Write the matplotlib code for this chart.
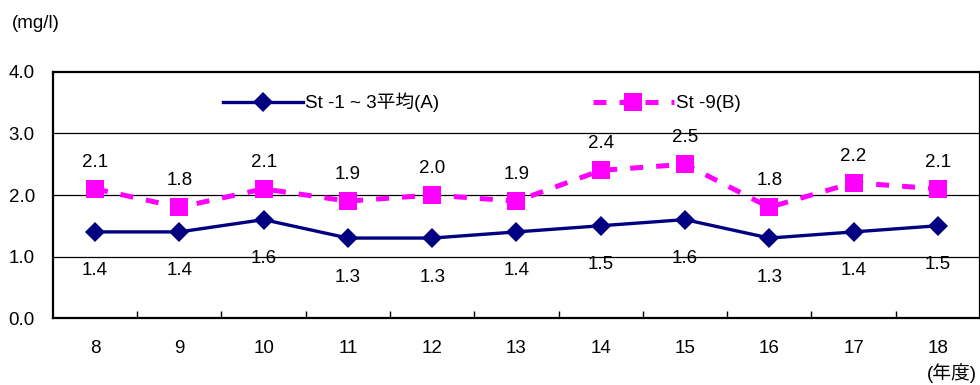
#!/usr/bin/env python3

import matplotlib.pyplot as plt
import numpy as np

plt.rcParams["font.family"] = ["Liberation Sans", "Noto Sans CJK JP"]

years = ["8", "9", "10", "11", "12", "13", "14", "15", "16", "17", "18"]
st_avg = [1.4, 1.4, 1.6, 1.3, 1.3, 1.4, 1.5, 1.6, 1.3, 1.4, 1.5]
st_9 = [2.1, 1.8, 2.1, 1.9, 2.0, 1.9, 2.4, 2.5, 1.8, 2.2, 2.1]
yticks = [0.0, 1.0, 2.0, 3.0, 4.0]

NAVY = "#000080"
PINK = "#FF00FF"
FS = 13.5

fig = plt.figure(figsize=(9.8, 3.85), dpi=100)
ax = fig.add_axes([0.054, 0.174, 0.946, 0.639])

x = np.arange(len(years))

ax.plot(x, st_9, color=PINK, lw=3.6, ls=(0, (2.6, 2.6)), marker="s",
        markersize=13.5, markeredgewidth=0, label="St -9(B)", zorder=3)
ax.plot(x, st_avg, color=NAVY, lw=2.4, marker="D", markersize=10,
        markeredgewidth=0, label="St -1 ~ 3平均(A)", zorder=4)

# value labels: series B above its points, series A below
for xi, v in zip(x, st_9):
    ax.annotate(f"{v:.1f}", (xi, v), xytext=(0, 13), textcoords="offset points",
                ha="center", va="bottom", fontsize=FS)
for xi, v in zip(x, st_avg):
    ax.annotate(f"{v:.1f}", (xi, v), xytext=(0, -22), textcoords="offset points",
                ha="center", va="top", fontsize=FS)

ax.set_xlim(-0.5, len(years) - 0.5)
ax.set_ylim(0, 4)
ax.set_yticks(yticks)
ax.set_yticklabels([f"{t:.1f}" for t in yticks], fontsize=FS)
ax.tick_params(axis="y", length=0, pad=13)

# tick marks between categories, labels centered on categories
ax.set_xticks(np.arange(0.5, len(years) - 1, 1.0))
ax.set_xticklabels([])
ax.tick_params(axis="x", which="major", direction="in", length=5, width=1)
ax.set_xticks(x, minor=True)
ax.set_xticklabels(years, minor=True, fontsize=FS)
ax.tick_params(axis="x", which="minor", length=0, pad=16)

for y in yticks[1:-1]:
    ax.axhline(y, color="black", lw=0.9, zorder=1)
for s in ax.spines.values():
    s.set_linewidth(1.6)

handles, labels = ax.get_legend_handles_labels()
ax.legend(handles[::-1], labels[::-1], ncol=2, frameon=False, fontsize=FS,
          handlelength=4.3, columnspacing=8.2, handletextpad=0.1,
          loc="upper left", bbox_to_anchor=(0.165, 0.985))

fig.text(0.012, 0.94, "(mg/l)", fontsize=FS, ha="left", va="center")
fig.text(0.997, 0.03, "(年度)", fontsize=FS, ha="right", va="center")

fig.savefig("out.png")
